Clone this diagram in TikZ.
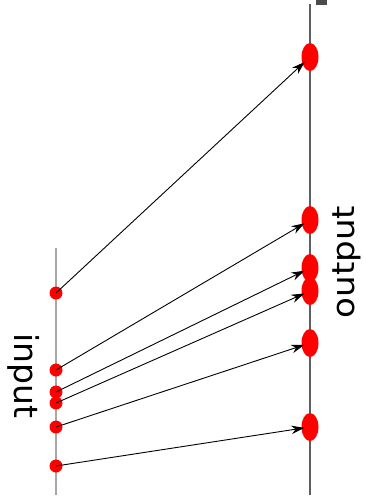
\documentclass[tikz,border=0pt]{standalone}
\usepackage{fontspec}
\setmainfont{DejaVu Sans}
\usetikzlibrary{arrows.meta,shapes.geometric}
\definecolor{axisgray}{HTML}{A6A6A6}
\definecolor{axisdark}{HTML}{5E5E5E}
\tikzset{
    indot/.style={circle, fill=red, draw=none, minimum size=13pt, inner sep=0pt},
    outdot/.style={ellipse, fill=red, draw=none, minimum width=17pt, minimum height=28pt, inner sep=0pt},
    link/.style={draw, -{Stealth[length=13pt,width=8.5pt]}, line width=0.9pt, shorten >=-3pt},
    axislabel/.style={font=\fontsize{33}{33}\selectfont, inner sep=0pt},
}
\begin{document}
\begin{tikzpicture}[x=1pt, y=-1pt]
\useasboundingbox (0,0) rectangle (365,499);

% Axes
\draw[axisgray, line width=1.8pt] (56,248) -- (56,495);
\draw[axisdark, line width=1.8pt] (310,4) -- (310,495);
\fill[axisdark!80!black] (316,0) rectangle (327,4.5);

% Labels
\node[axislabel, rotate=-90, anchor=base] (inlabel) at (14,376) {input};
\node[axislabel, rotate=90, xscale=1.1, anchor=base, font=\fontsize{31}{31}\selectfont] (outlabel) at (354,262) {output};

% Nodes
\node[indot] (in1) at (56,293) {};
\node[indot] (in2) at (56,370) {};
\node[indot] (in3) at (56,392) {};
\node[indot] (in4) at (56,403) {};
\node[indot] (in5) at (56,427) {};
\node[indot] (in6) at (56,466) {};

\node[outdot] (out1) at (310,57) {};
\node[outdot] (out2) at (310,220) {};
\node[outdot] (out3) at (310,268) {};
\node[outdot] (out4) at (310,291) {};
\node[outdot] (out5) at (310,343) {};
\node[outdot] (out6) at (310,427) {};

% Edges
\draw[link] (in1.center) -- (out1);
\draw[link] (in2.center) -- (out2);
\draw[link] (in3.center) -- (out3);
\draw[link] (in4.center) -- (out4);
\draw[link] (in5.center) -- (out5);
\draw[link] (in6.center) -- (out6);

\end{tikzpicture}
\end{document}
